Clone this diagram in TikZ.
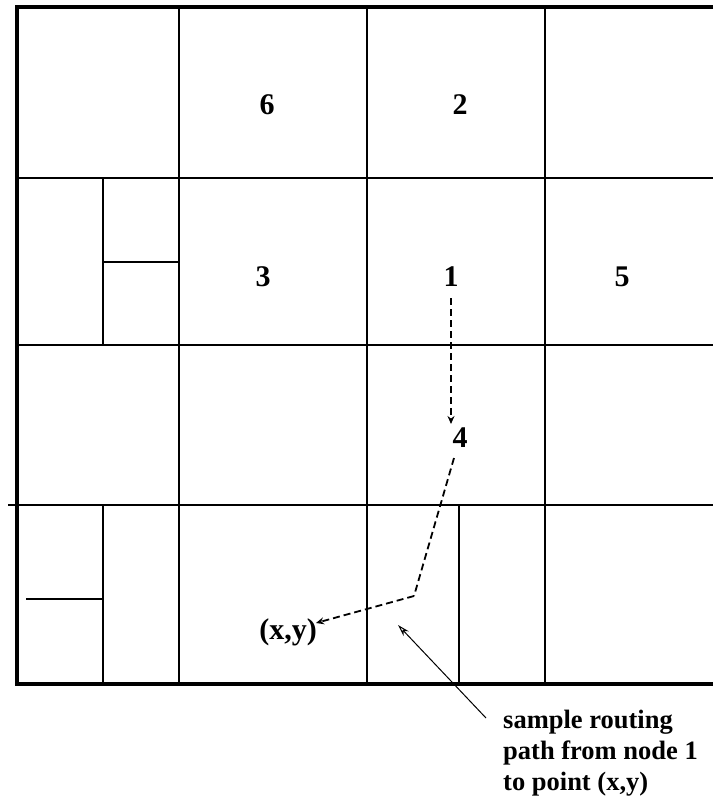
\documentclass[tikz,border=0pt]{standalone}
\usepackage{fontspec}
\setmainfont{Liberation Serif}
\usetikzlibrary{arrows.meta}
\begin{document}
\begin{tikzpicture}[x=1pt,y=-1pt,
  outer/.style={line width=3.5pt},
  inner/.style={line width=1.8pt},
  lbl/.style={font=\fontsize{30}{34}\selectfont\bfseries, inner sep=1pt},
  dsh/.style={line width=1.8pt, dash pattern=on 7pt off 4pt},
  route/.style={dsh, -{Stealth[length=8pt,width=7pt]}},
  pointer/.style={line width=1pt, -{Stealth[open,length=12pt,width=7pt]}}]
\useasboundingbox (0,0) rectangle (713,800);
% inner grid lines
\draw[inner] (179,7) -- (179,684);
\draw[inner] (367,7) -- (367,684);
\draw[inner] (545,7) -- (545,684);
\draw[inner] (17,178) -- (713,178);
\draw[inner] (17,345) -- (713,345);
\draw[inner] (8,505) -- (713,505);
\draw[inner] (103,178) -- (103,345);
\draw[inner] (103,262) -- (179,262);
\draw[inner] (103,505) -- (103,684);
\draw[inner] (26,599) -- (103,599);
\draw[inner] (459,505) -- (459,684);
% outer border (open on the right)
\draw[outer] (713,7) -- (17,7) -- (17,684) -- (713,684);
% labels
\node[lbl] (n6) at (267,105) {6};
\node[lbl] (n2) at (460,105) {2};
\node[lbl] (n3) at (263,277) {3};
\node[lbl] (n1) at (451,277) {1};
\node[lbl] (n5) at (622,277) {5};
\node[lbl] (n4) at (460,438) {4};
\node[lbl] (nxy) at (288,632) {(x,y)};
% routing path
\coordinate (a) at (451,424);
\coordinate (b) at (454,458);
\coordinate (c) at (414,596);
\coordinate (d) at (316,623);
\draw[route] ([yshift=-10pt]n1.south) -- (a);
\draw[dsh] (b) -- (c);
\draw[route] (c) -- (d);
% caption
\node[anchor=north west, align=left, inner sep=0pt,
      font=\fontsize{26.5}{31}\selectfont\bfseries] (cap) at (503,710)
  {sample routing\\path from node 1\\to point (x,y)};
\coordinate (t) at (486,718);
\coordinate (h) at (398,625);
\draw[pointer] (t) -- (h);
\end{tikzpicture}
\end{document}
